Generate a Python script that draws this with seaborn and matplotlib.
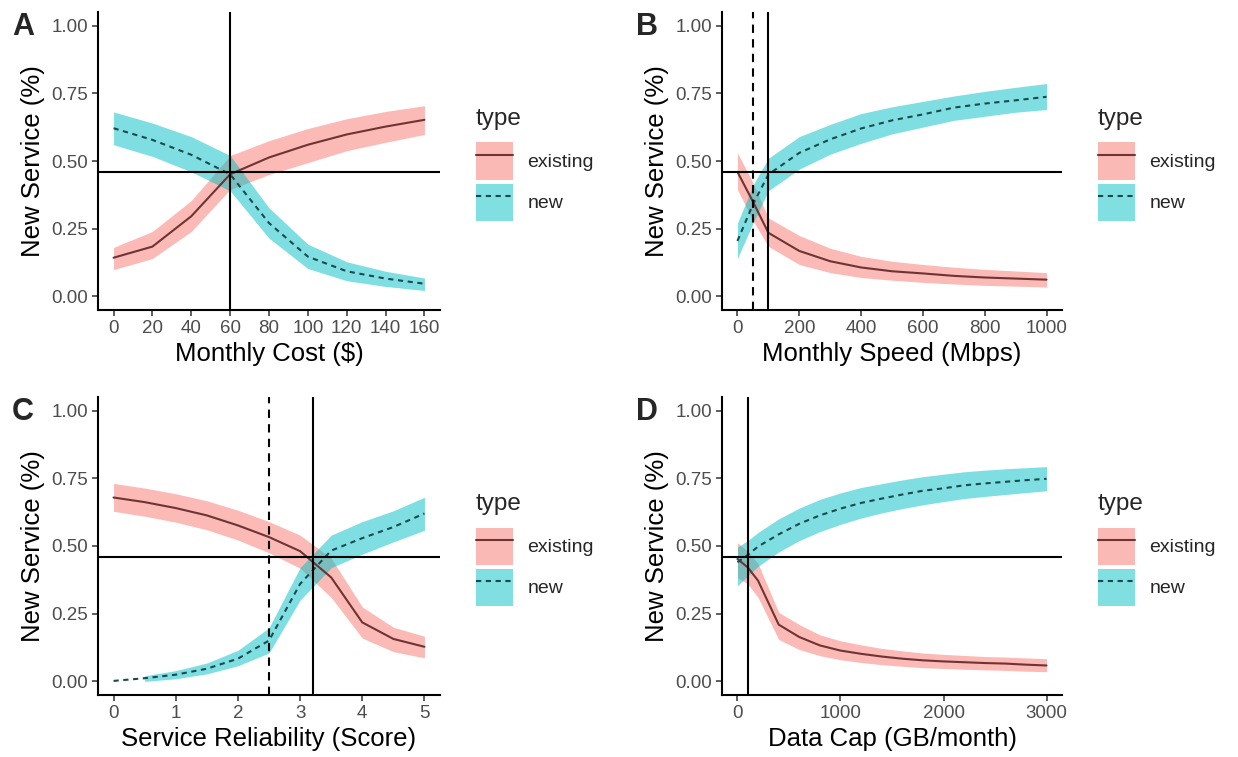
import numpy as np
import pandas as pd
import matplotlib
matplotlib.use("Agg")
import matplotlib.pyplot as plt
import seaborn as sns
from matplotlib.patches import Patch
from matplotlib.lines import Line2D

nan = np.nan

# ---------------- data ----------------
A_x = [0, 20, 40, 60, 80, 100, 120, 140, 160]
A_exist = [0.143, 0.184, 0.296, 0.451, 0.513, 0.560, 0.598, 0.627, 0.652]
A_exist_lo = [0.099, 0.140, 0.240, 0.395, 0.450, 0.494, 0.538, 0.569, 0.598]
A_exist_hi = [0.181, 0.240, 0.354, 0.520, 0.575, 0.620, 0.656, 0.683, 0.704]
A_new = [0.621, 0.578, 0.523, 0.451, 0.271, 0.147, 0.093, 0.066, 0.047]
A_new_lo = [0.560, 0.517, 0.460, 0.390, 0.215, 0.103, 0.058, 0.037, 0.022]
A_new_hi = [0.681, 0.640, 0.590, 0.520, 0.327, 0.193, 0.128, 0.093, 0.068]

B_x = [0, 50, 100, 200, 300, 400, 500, 600, 700, 800, 900, 1000]
B_exist = [0.460, 0.350, 0.235, 0.168, 0.130, 0.107, 0.093, 0.085, 0.076, 0.070, 0.066, 0.062]
B_exist_lo = [0.395, 0.280, 0.185, 0.118, 0.088, 0.070, 0.060, 0.052, 0.046, 0.041, 0.038, 0.035]
B_exist_hi = [0.530, 0.420, 0.290, 0.225, 0.178, 0.148, 0.130, 0.118, 0.108, 0.100, 0.094, 0.088]
B_new = [0.205, 0.340, 0.450, 0.530, 0.580, 0.620, 0.650, 0.672, 0.697, 0.712, 0.724, 0.737]
B_new_lo = [0.140, 0.270, 0.390, 0.470, 0.525, 0.565, 0.600, 0.625, 0.650, 0.665, 0.680, 0.690]
B_new_hi = [0.270, 0.410, 0.510, 0.590, 0.635, 0.675, 0.700, 0.720, 0.740, 0.757, 0.772, 0.786]

C_x = [0, 0.5, 1, 1.5, 2, 2.5, 3, 3.5, 4, 4.5, 5]
C_exist = [0.679, 0.662, 0.640, 0.613, 0.576, 0.533, 0.481, 0.384, 0.218, 0.157, 0.128]
C_exist_lo = [0.628, 0.610, 0.588, 0.560, 0.522, 0.475, 0.418, 0.310, 0.160, 0.110, 0.087]
C_exist_hi = [0.731, 0.714, 0.693, 0.667, 0.632, 0.590, 0.540, 0.455, 0.275, 0.200, 0.167]
C_new = [0.002, 0.012, 0.025, 0.047, 0.084, 0.151, 0.360, 0.483, 0.529, 0.570, 0.620]
C_new_lo = [nan, 0.000, 0.010, 0.028, 0.058, 0.105, 0.300, 0.420, 0.470, 0.515, 0.558]
C_new_hi = [nan, 0.021, 0.040, 0.068, 0.115, 0.198, 0.420, 0.540, 0.590, 0.630, 0.680]

D_x = [0, 100, 200, 400, 600, 800, 1000, 1200, 1400, 1600, 1800, 2000, 2200, 2400, 2600, 2800, 3000]
D_exist = [0.452, 0.421, 0.372, 0.210, 0.164, 0.133, 0.114, 0.102, 0.092, 0.084, 0.078, 0.074, 0.071, 0.068, 0.066, 0.062, 0.059]
D_exist_lo = [0.384, 0.360, 0.310, 0.155, 0.118, 0.095, 0.080, 0.070, 0.062, 0.056, 0.051, 0.048, 0.045, 0.043, 0.041, 0.038, 0.036]
D_exist_hi = [0.512, 0.480, 0.435, 0.255, 0.210, 0.172, 0.150, 0.135, 0.122, 0.113, 0.105, 0.100, 0.096, 0.092, 0.090, 0.087, 0.084]
D_new = [0.440, 0.467, 0.498, 0.543, 0.582, 0.613, 0.638, 0.659, 0.675, 0.690, 0.704, 0.713, 0.724, 0.731, 0.737, 0.743, 0.748]
D_new_lo = [0.353, 0.390, 0.425, 0.478, 0.520, 0.553, 0.580, 0.603, 0.622, 0.638, 0.652, 0.664, 0.675, 0.683, 0.690, 0.697, 0.704]
D_new_hi = [0.496, 0.520, 0.550, 0.600, 0.640, 0.672, 0.696, 0.716, 0.730, 0.744, 0.756, 0.765, 0.774, 0.780, 0.785, 0.789, 0.793]

types = ["existing", "new"]
h_ref = 0.46

panels = [
    dict(letter="A", x=A_x, ex=A_exist, exlo=A_exist_lo, exhi=A_exist_hi,
         nw=A_new, nwlo=A_new_lo, nwhi=A_new_hi,
         xlabel="Monthly Cost ($)", xticks=[0, 20, 40, 60, 80, 100, 120, 140, 160],
         vsolid=[60], vdash=[]),
    dict(letter="B", x=B_x, ex=B_exist, exlo=B_exist_lo, exhi=B_exist_hi,
         nw=B_new, nwlo=B_new_lo, nwhi=B_new_hi,
         xlabel="Monthly Speed (Mbps)", xticks=[0, 200, 400, 600, 800, 1000],
         vsolid=[100], vdash=[50]),
    dict(letter="C", x=C_x, ex=C_exist, exlo=C_exist_lo, exhi=C_exist_hi,
         nw=C_new, nwlo=C_new_lo, nwhi=C_new_hi,
         xlabel="Service Reliability (Score)", xticks=[0, 1, 2, 3, 4, 5],
         vsolid=[3.2], vdash=[2.5]),
    dict(letter="D", x=D_x, ex=D_exist, exlo=D_exist_lo, exhi=D_exist_hi,
         nw=D_new, nwlo=D_new_lo, nwhi=D_new_hi,
         xlabel="Data Cap (GB/month)", xticks=[0, 1000, 2000, 3000],
         vsolid=[100], vdash=[]),
]

# ---------------- style ----------------
sns.set_style("ticks")
plt.rcParams["font.family"] = ["Liberation Sans", "DejaVu Sans"]

fill_cols = {"existing": "#F8766D", "new": "#00BFC4"}
key_cols = {"existing": "#FBB9B5", "new": "#7FDFE1"}
line_cols = {"existing": "#6E3434", "new": "#1C4A4C"}
line_dashes = {"existing": "", "new": (2.5, 2.2)}

W, H = 1238, 757
fig = plt.figure(figsize=(W / 100, H / 100), dpi=100)

# axes rectangles in pixels (left, top, right, bottom)
rects = [(98, 12, 440, 310), (722, 12, 1062, 310),
         (98, 397, 440, 695), (722, 397, 1062, 695)]

for p, (l, t, r, b) in zip(panels, rects):
    ax = fig.add_axes([l / W, 1 - b / H, (r - l) / W, (b - t) / H])
    xs = np.array(p["x"], dtype=float)
    df = pd.DataFrame({
        "x": np.concatenate([xs, xs]),
        "y": np.concatenate([p["ex"], p["nw"]]),
        "type": ["existing"] * len(xs) + ["new"] * len(xs),
    })
    ax.fill_between(xs, p["exlo"], p["exhi"], color=fill_cols["existing"],
                    alpha=0.5, linewidth=0, zorder=1)
    ax.fill_between(xs, p["nwlo"], p["nwhi"], color=fill_cols["new"],
                    alpha=0.5, linewidth=0, zorder=1)
    sns.lineplot(data=df, x="x", y="y", hue="type", style="type",
                 palette=line_cols, dashes=line_dashes, linewidth=1.5,
                 estimator=None, legend=False, ax=ax, zorder=3)

    ax.axhline(h_ref, color="black", lw=1.5, zorder=4)
    for v in p["vsolid"]:
        ax.axvline(v, color="black", lw=1.5, zorder=4)
    for v in p["vdash"]:
        ax.axvline(v, color="black", lw=1.5, ls=(0, (4, 3)), zorder=4)

    xr = p["xticks"][-1] - p["xticks"][0]
    ax.set_xlim(p["xticks"][0] - 0.05 * xr, p["xticks"][-1] + 0.05 * xr)
    ax.set_ylim(-0.05, 1.05)
    ax.set_xticks(p["xticks"])
    ax.set_xticklabels([str(v) for v in p["xticks"]])
    ax.set_yticks([0, 0.25, 0.5, 0.75, 1.0])
    ax.set_yticklabels(["0.00", "0.25", "0.50", "0.75", "1.00"])
    ax.tick_params(axis="both", labelsize=13.5, labelcolor="#4D4D4D",
                   color="#333333", length=4, width=1.1, pad=3)
    for s in ["top", "right"]:
        ax.spines[s].set_visible(False)
    for s in ["left", "bottom"]:
        ax.spines[s].set_linewidth(1.5)
        ax.spines[s].set_color("black")
    ax.set_xlabel(p["xlabel"], fontsize=18.5, color="black", labelpad=4)
    ax.set_ylabel("New Service (%)", fontsize=18.5, color="black", labelpad=5)

    # panel letter
    fig.text((l - 86) / W, 1 - (t + 15) / H, p["letter"], fontsize=22,
             fontweight="bold", ha="left", va="center")

    handles = [
        (Patch(facecolor=key_cols["existing"], linewidth=0),
         Line2D([], [], color=line_cols["existing"], lw=1.5)),
        (Patch(facecolor=key_cols["new"], linewidth=0),
         Line2D([], [], color=line_cols["new"], lw=1.5, ls=(0, (2.5, 2.2)))),
    ]
    leg = ax.legend(handles, types, title="type", loc="upper left",
                    bbox_to_anchor=((r + 36 - l) / (r - l), (b - (t + 96)) / (b - t)),
                    frameon=False, fontsize=14, title_fontsize=17.5,
                    handlelength=1.9, handleheight=2.56, labelspacing=0.2,
                    handletextpad=0.75, borderaxespad=0, borderpad=0)
    leg._legend_box.align = "left"
    leg._legend_box.sep = 9

fig.savefig("out.png", dpi=100)
